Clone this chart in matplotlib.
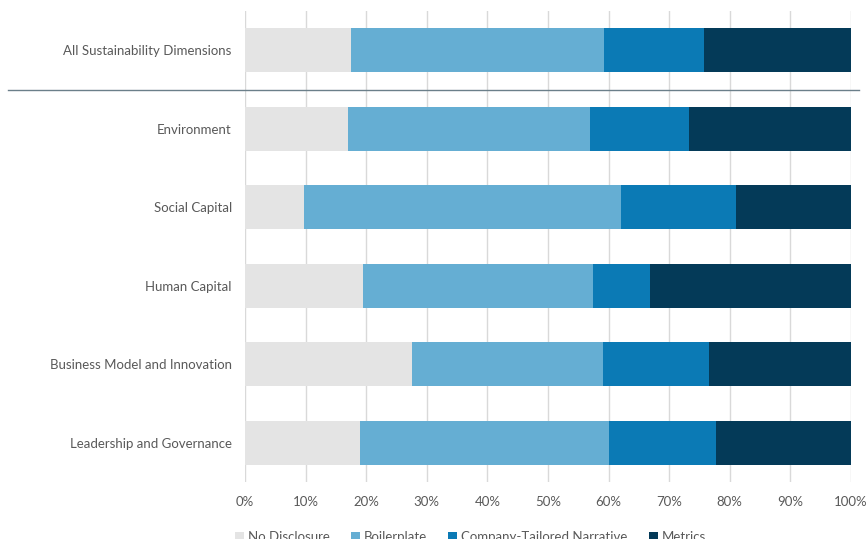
import matplotlib.pyplot as plt
import matplotlib.ticker as mticker
from matplotlib.lines import Line2D
from matplotlib.transforms import blended_transform_factory

# disclosure shares (%) per dimension
dimensions = [
    "All Sustainability Dimensions",
    "Environment",
    "Social Capital",
    "Human Capital",
    "Business Model and Innovation",
    "Leadership and Governance",
]
no_disclosure = [17.5, 17.0, 9.8, 19.4, 27.6, 18.9]
boilerplate = [41.7, 40.0, 52.3, 38.0, 31.5, 41.2]
tailored = [16.5, 16.3, 18.9, 9.4, 17.4, 17.6]
metrics = [24.3, 26.7, 19.0, 33.2, 23.5, 22.3]

series = ["No Disclosure", "Boilerplate", "Company-Tailored Narrative", "Metrics"]
colors = ["#e4e4e4", "#65aed3", "#0b7ab5", "#043a58"]

plt.rcParams["font.family"] = ["Lato", "DejaVu Sans"]
text_color = "#595959"

fig = plt.figure(figsize=(8.68, 5.39), dpi=100)
ax = fig.add_axes([245 / 868, 57 / 539, 606 / 868, 471 / 539])

ypos = list(range(len(dimensions)))
left = [0] * len(dimensions)
for name, vals, col in zip(series, [no_disclosure, boilerplate, tailored, metrics], colors):
    ax.barh(ypos, vals, left=left, height=0.56, color=col, label=name, zorder=3)
    left = [l + v for l, v in zip(left, vals)]

ax.set_ylim(len(dimensions) - 0.5, -0.5)
ax.set_xlim(0, 100)
ax.set_yticks(ypos)
ax.set_yticklabels(dimensions)
ax.set_xticks(range(0, 101, 10))
ax.xaxis.set_major_formatter(mticker.FuncFormatter(lambda x, _: f"{x:.0f}%"))
ax.tick_params(axis="both", length=0, labelsize=9.5, colors=text_color)
ax.tick_params(axis="y", pad=9.5)
ax.tick_params(axis="x", pad=10)
ax.grid(axis="x", color="#d9d9d9", linewidth=1, zorder=0)
for s in ax.spines.values():
    s.set_visible(False)

# separator between the overall row and the individual dimensions
trans = blended_transform_factory(fig.transFigure, ax.transData)
fig.add_artist(Line2D([8 / 868, 859 / 868], [0.5, 0.5], transform=trans,
                      color="#6b7f8a", linewidth=1, zorder=5))

fig.legend(loc="center", bbox_to_anchor=(0.542, 0.004), ncol=4, frameon=False,
           fontsize=9.5, labelcolor=text_color, handlelength=0.7, handleheight=0.7,
           handletextpad=0.3, columnspacing=1.6)

fig.savefig("out.png", dpi=100)
